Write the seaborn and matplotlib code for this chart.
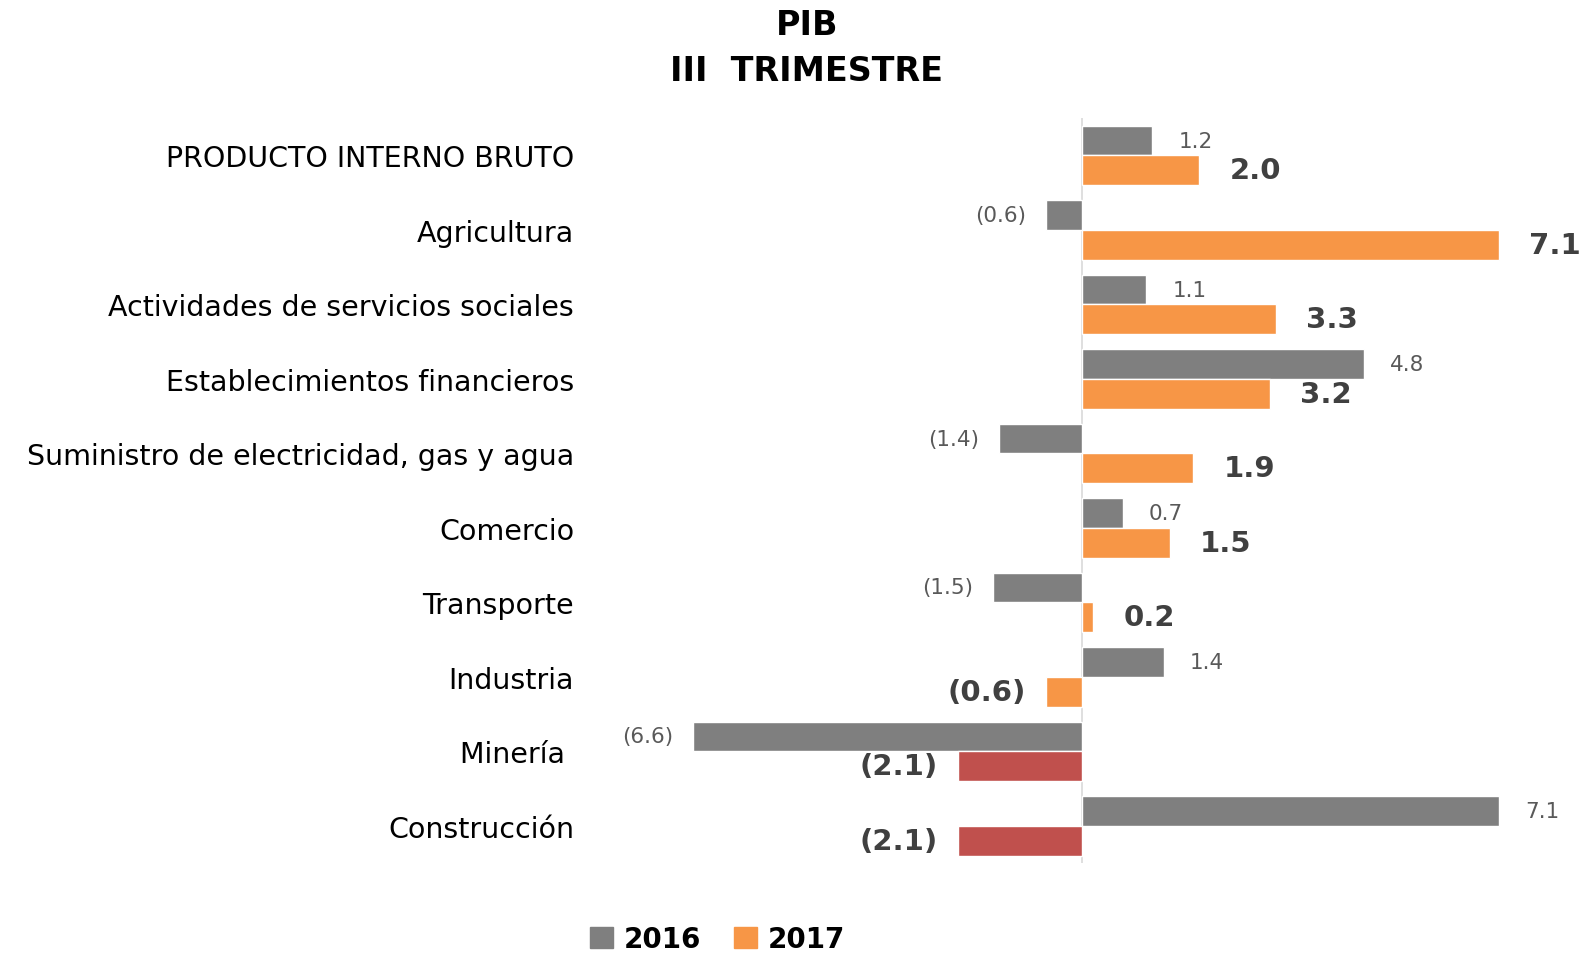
import pandas as pd
import numpy as np
import matplotlib.pyplot as plt
import seaborn as sns
from matplotlib.patches import Patch

sns.set_style('white')
plt.rcParams['font.family'] = ['DejaVu Sans']
plt.rcParams['text.color'] = 'black'

# datos
sectores = ['PRODUCTO INTERNO BRUTO', 'Agricultura', 'Actividades de servicios sociales',
            'Establecimientos financieros', 'Suministro de electricidad, gas y agua',
            'Comercio', 'Transporte', 'Industria', 'Minería ', 'Construcción']
pib_2016 = [1.2, -0.6, 1.1, 4.8, -1.4, 0.7, -1.5, 1.4, -6.6, 7.1]
pib_2017 = [2.0, 7.1, 3.3, 3.2, 1.9, 1.5, 0.2, -0.6, -2.1, -2.1]
anios = ['2016', '2017']

gris = '#7f7f7f'
naranja = '#f79646'
rojo = '#c0504d'

df = pd.DataFrame({
    'sector': sectores * 2,
    'valor': pib_2016 + pib_2017,
    'anio': [anios[0]] * len(sectores) + [anios[1]] * len(sectores),
})

fig = plt.figure(figsize=(15.85, 9.54), dpi=100)
ax = fig.add_axes([590 / 1568, 1 - 855 / 944, (1500 - 590) / 1568, (855 - 118) / 944])

sns.barplot(data=df, y='sector', x='valor', hue='anio', orient='h',
            palette=[gris, naranja], saturation=1, width=0.8, ax=ax, legend=False)

unit = 58.2
ax.set_xlim(-(1070 - 590) / unit, (1500 - 1070) / unit)
ax.set_ylim(9.5, -0.5)

# barras negativas grandes de 2017 en rojo
for bar, v in zip(ax.containers[1], pib_2017):
    if v < -1:
        bar.set_facecolor(rojo)

def fmt(v):
    return f'({abs(v):.1f})' if v < 0 else f'{v:.1f}'

for bar, v in zip(ax.containers[0], pib_2016):
    y = bar.get_y() + bar.get_height() / 2
    off = 26 if v >= 0 else -20
    ax.annotate(fmt(v), (v, y), xytext=(off, 0), textcoords='offset pixels',
                ha='left' if v >= 0 else 'right', va='center',
                fontsize=15.5, color='#595959', annotation_clip=False)

for bar, v in zip(ax.containers[1], pib_2017):
    y = bar.get_y() + bar.get_height() / 2
    off = 30 if v >= 0 else -20
    ax.annotate(fmt(v), (v, y), xytext=(off, 0), textcoords='offset pixels',
                ha='left' if v >= 0 else 'right', va='center',
                fontsize=21, fontweight='bold', color='#404040', annotation_clip=False)

ax.axvline(0, color='#d9d9d9', lw=1.2, zorder=0)
for s in ax.spines.values():
    s.set_visible(False)
ax.set_xticks([])
ax.set_xlabel('')
ax.set_ylabel('')
ax.tick_params(axis='y', length=0, pad=16, labelsize=20.5, labelcolor='black')

fig.text(798 / 1568, 1 - 25 / 944, 'PIB', ha='center', va='center',
         fontsize=24, fontweight='bold', color='black')
fig.text(798 / 1568, 1 - 71 / 944, 'III  TRIMESTRE', ha='center', va='center',
         fontsize=24, fontweight='bold', color='black')

handles = [Patch(color=gris, label=anios[0]), Patch(color=naranja, label=anios[1])]
fig.legend(handles=handles, loc='center', bbox_to_anchor=(710 / 1568, 1 - 930 / 944),
           ncol=2, frameon=False, prop={'size': 20, 'weight': 'bold'},
           handlelength=0.8, handleheight=0.8, handletextpad=0.4, columnspacing=1.2,
           labelcolor='black')

fig.savefig('out.png', dpi=100)
